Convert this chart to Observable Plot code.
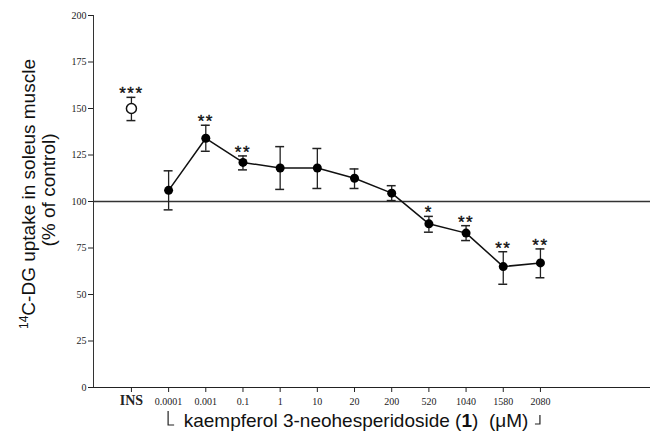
<!DOCTYPE html>
<html><head><meta charset="utf-8">
<script src="https://cdn.jsdelivr.net/npm/d3@7"></script>
<script src="https://cdn.jsdelivr.net/npm/@observablehq/plot@0.6"></script>
<style>body{margin:0;background:#fff}</style>
</head><body><div id="chart"></div>
<script>
const categories = ["INS","0.0001","0.001","0.1","1","10","20","200","520","1040","1580","2080"];
const means = [150,106,134,121,118,118,112.5,104.5,88,83,65,67];
const upper = [156,116.5,141,124.5,129.5,128.5,117.5,108.5,92,87,73,74.5];
const lower = [143.5,95.5,127,117,106.5,107,107,100.5,83.5,79,55.5,59];
const stars = ["***","","**","**","","","","","*","**","**","**"];
const yTicks = [0,25,50,75,100,125,150,175,200];
const controlLevel = 100;

const rows = categories.map((c,i)=>({i, cat:c, mean:means[i], hi:upper[i], lo:lower[i], star:stars[i]}));
const treated = rows.filter(d=>d.i>=1);
const ins = rows.filter(d=>d.i===0);
const xDomain = [-1.02, 13.96];
const serif = "Liberation Serif, Times New Roman, serif";
const sans = "Liberation Sans, Arial, sans-serif";

const plot = Plot.plot({
  width: 650, height: 443,
  marginLeft: 93, marginRight: 0, marginTop: 15, marginBottom: 56,
  x: {type:"linear", domain:xDomain, axis:null},
  y: {domain:[0,200], axis:null},
  marks: [
    Plot.ruleY([controlLevel], {stroke:"#333", strokeWidth:1.5}),
    Plot.frame({anchor:"left", stroke:"#333", strokeDasharray:"1,1"}),
    Plot.ruleY([0], {stroke:"#222"}),
    Plot.axisY(yTicks, {label:null, tickSize:5, tickPadding:2, fontFamily:serif, fontSize:10, color:"#222"}),
    Plot.axisX([0], {label:null, tickSize:5, tickPadding:3, tickFormat:()=>"INS", fontFamily:serif, fontSize:14, fontWeight:"bold", color:"#222"}),
    Plot.axisX(d3.range(1,12), {label:null, tickSize:5, tickPadding:5, tickFormat:i=>categories[i], fontFamily:serif, fontSize:10, color:"#222"}),
    Plot.ruleX(rows, {x:"i", y1:"lo", y2:"hi", stroke:"#222", strokeWidth:1.3}),
    Plot.ruleY(rows, {y:"hi", x1:d=>d.i-0.12, x2:d=>d.i+0.12, stroke:"#222", strokeWidth:1.5}),
    Plot.ruleY(rows, {y:"lo", x1:d=>d.i-0.12, x2:d=>d.i+0.12, stroke:"#222", strokeWidth:1.5}),
    Plot.line(treated, {x:"i", y:"mean", stroke:"#111", strokeWidth:1.5}),
    Plot.dot(treated, {x:"i", y:"mean", r:4.5, fill:"#000"}),
    Plot.dot(ins, {x:"i", y:"mean", r:5, fill:"#fff", stroke:"#111", strokeWidth:1.5}),
    Plot.text(rows, {x:"i", y:"hi", text:"star", dy:2, lineAnchor:"bottom", fontSize:17, fontFamily:sans, fill:"#111", stroke:"#111", strokeWidth:0.4})
  ]
});
document.getElementById("chart").appendChild(plot);

const svg = d3.select(plot);
const xs = plot.scale("x");
const x1 = xs.apply(1), x11 = xs.apply(11);
const g = svg.append("g").attr("fill","none").attr("stroke","#222").attr("stroke-width",1.2);
g.append("path").attr("d", `M${x1},411V425H${x1+6}`);
g.append("path").attr("d", `M${x11},415V424H${x11-5}`);
const xl = svg.append("text").attr("x", (x1+x11)/2 + 2).attr("y", 427).attr("text-anchor","middle")
  .attr("font-family", sans).attr("font-size", 19).attr("fill","#111");
xl.append("tspan").text("kaempferol 3-neohesperidoside (");
xl.append("tspan").attr("font-weight","bold").text("1");
xl.append("tspan").text(")  (\u03BCM)");

const yl = svg.append("text").attr("transform","translate(35,194) rotate(-90)").attr("text-anchor","middle")
  .attr("font-family", sans).attr("font-size", 19).attr("fill","#111");
yl.append("tspan").attr("font-size",12).attr("dy",-7).text("14");
yl.append("tspan").attr("dy",7).text("C-DG uptake in soleus muscle");
svg.append("text").attr("transform","translate(55,190) rotate(-90)").attr("text-anchor","middle")
  .attr("font-family", sans).attr("font-size", 19).attr("fill","#111").text("(% of control)");
svg.selectAll("text").filter(function(){return this.textContent.includes("*");}).attr("letter-spacing",1.5);
</script></body></html>
